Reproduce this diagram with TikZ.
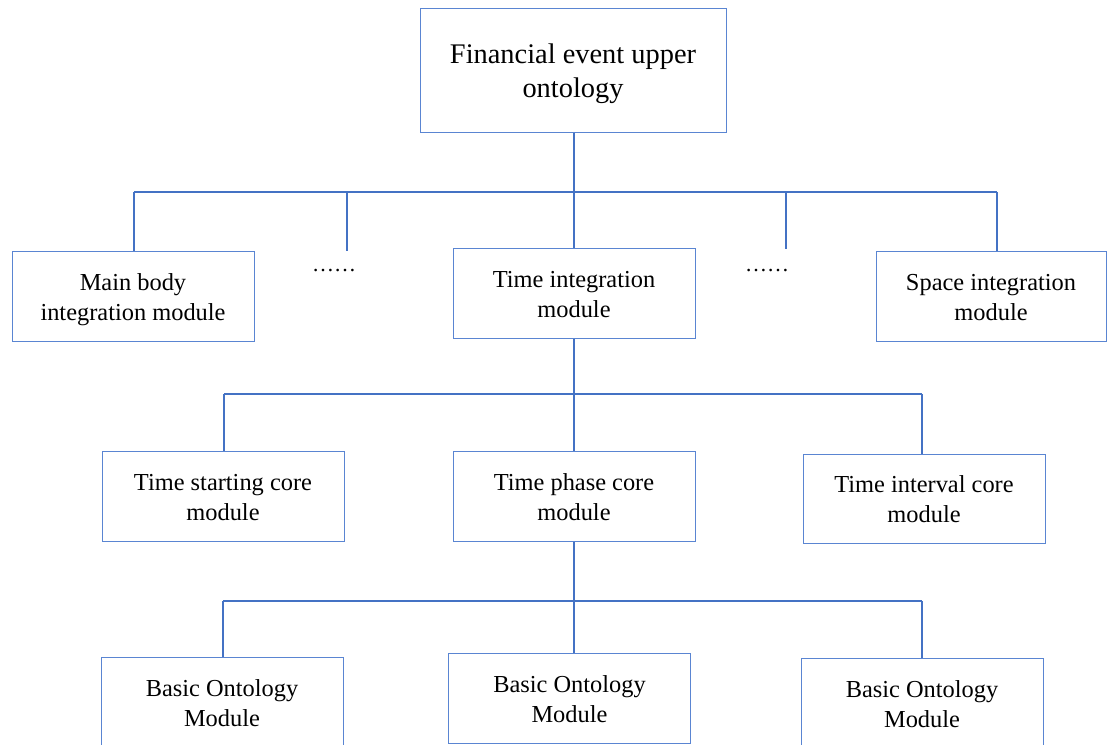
\documentclass[tikz,border=0pt]{standalone}
\usepackage{fontspec}
\setmainfont{Liberation Serif}
\definecolor{lineblue}{HTML}{4472C4}
\definecolor{boxblue}{HTML}{5A85D2}
\newcommand\twolines[2][6pt]{\raisebox{#1}[0pt][0pt]{\begin{tabular}[t]{@{}c@{}}#2\end{tabular}}}
\begin{document}
\begin{tikzpicture}[x=1pt,y=-1pt,
  box/.style={draw=boxblue, line width=1pt, inner sep=0pt,
    minimum width=242pt, minimum height=90pt,
    font=\fontsize{24.4}{30}\selectfont},
  topbox/.style={box, minimum width=306pt, minimum height=124pt,
    font=\fontsize{28.4}{34}\selectfont},
  conn/.style={draw=lineblue, line width=1.6pt},
  dots/.style={inner sep=0pt, font=\fontsize{22}{25}\selectfont}]
\useasboundingbox (0,0) rectangle (1107,744);
\clip (0,0) rectangle (1107,744);
\fill[white] (0,0) rectangle (1107,744);

% nodes
\node[topbox] (top) at (573,70) {\twolines[7pt]{Financial event upper\\ontology}};
\node[box] (mb) at (133,296) {\twolines{Main body\\integration module}};
\node[box] (ti) at (574,293) {\twolines{Time integration\\module}};
\node[box, minimum width=230pt] (sp) at (991,296) {\twolines{Space integration\\module}};
\node[dots] (dl) at (334,271) {……};
\node[dots] (dr) at (767,271) {……};
\node[box] (ts) at (223,496) {\twolines{Time starting core\\module}};
\node[box] (tp) at (574,496) {\twolines{Time phase core\\module}};
\node[box, minimum height=89pt] (tv) at (924,498.5) {\twolines{Time interval core\\module}};
\node[box] (bl) at (222,702) {\twolines{Basic Ontology\\Module}};
\node[box] (bm) at (569.5,698) {\twolines{Basic Ontology\\Module}};
\node[box] (br) at (922,703) {\twolines{Basic Ontology\\Module}};

% bus coordinates
\coordinate (b1L) at (134,192);
\coordinate (b1R) at (997,192);
\coordinate (d1s) at (347,192);
\coordinate (d1e) at (347,251);
\coordinate (d2s) at (786,192);
\coordinate (d2e) at (786,249);
\coordinate (b2L) at (224,394);
\coordinate (b2R) at (922,394);
\coordinate (b3L) at (223,601);
\coordinate (b3R) at (922,601);

% level 1
\draw[conn] (ti.north |- top.south) -- (ti.north);
\draw[conn] (b1L) -- (b1R);
\draw[conn] (b1L) -- (b1L |- mb.north);
\draw[conn] (d1s) -- (d1e);
\draw[conn] (d2s) -- (d2e);
\draw[conn] (b1R) -- (b1R |- sp.north);
% level 2
\draw[conn] (ti.south) -- (tp.north);
\draw[conn] (b2L) -- (b2R);
\draw[conn] (b2L) -- (b2L |- ts.north);
\draw[conn] (b2R) -- (b2R |- tv.north);
% level 3
\draw[conn] (tp.south) -- (tp.south |- bm.north);
\draw[conn] (b3L) -- (b3R);
\draw[conn] (b3L) -- (b3L |- bl.north);
\draw[conn] (b3R) -- (b3R |- br.north);
\end{tikzpicture}
\end{document}
